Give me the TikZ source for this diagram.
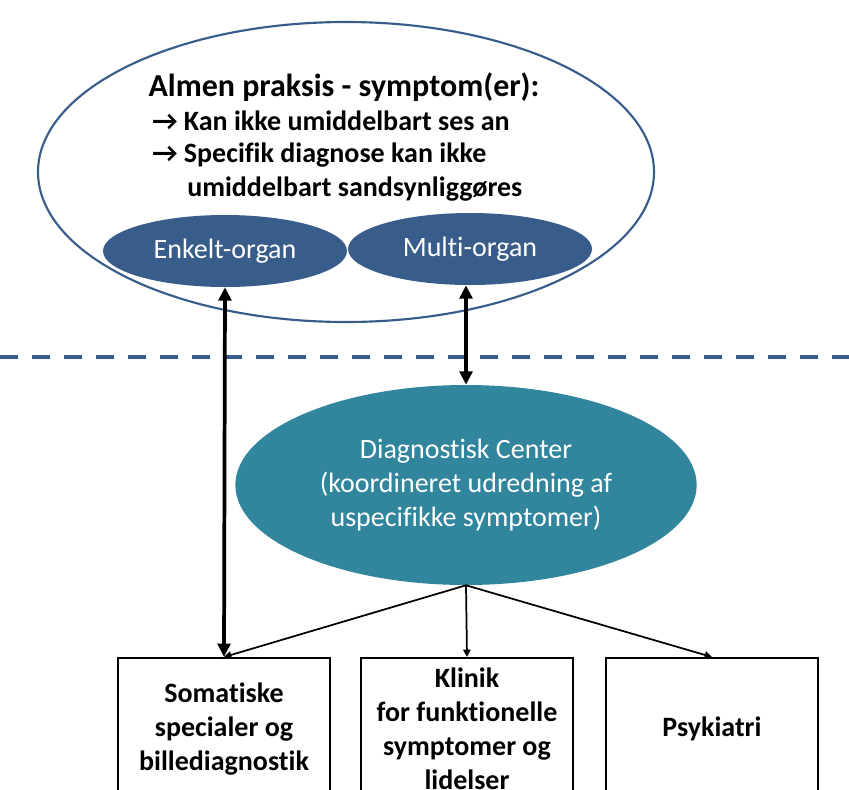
\documentclass[tikz,border=0pt]{standalone}
\usepackage{fontspec}
\setmainfont{Carlito}[Ligatures=NoCommon]
\usetikzlibrary{arrows.meta,positioning,shapes.geometric}
\definecolor{organblue}{RGB}{56,93,138}
\definecolor{centerteal}{RGB}{49,133,156}

\begin{document}
\begin{tikzpicture}[x=0.75pt, y=-0.75pt,
    gp/.style={ellipse, draw=organblue, line width=1.6pt, fill=white,
               minimum width=462pt, minimum height=225pt, inner sep=0pt},
    organ/.style={ellipse, fill=organblue, text=white, inner sep=0pt,
                  minimum width=183pt, minimum height=54pt,
                  font=\fontsize{21}{24}\selectfont},
    head/.style={inner sep=0pt, font=\bfseries\fontsize{24}{28}\selectfont},
    point/.style={inner sep=0pt, anchor=west, font=\bfseries\fontsize{21}{24}\selectfont},
    center/.style={ellipse, fill=centerteal, text=white, inner sep=0pt,
                   minimum width=346pt, minimum height=150pt, align=center,
                   font=\fontsize{21}{25.5}\selectfont},
    unit/.style={rectangle, draw=black, line width=1.5pt, anchor=north,
                 minimum width=159pt, minimum height=106.5pt, align=center,
                 font=\bfseries\fontsize{21}{25.5}\selectfont},
    biarr/.style={{Triangle[length=10pt,width=9.5pt]}-{Triangle[length=10pt,width=9.5pt]},
                  line width=2.8pt, black},
    arr/.style={-{Triangle[length=5.5pt,width=5.5pt]}, line width=1.3pt, black},
    divider/.style={organblue, line width=3pt, dash pattern=on 13.5pt off 10.5pt}
]
\clip (0,0) rectangle (849,789);

% General practice
\node[gp] (praksis) at (346,172) {};
\node[head] (title) at (344,87) {Almen praksis - symptom(er):};
\node[point] (kan) at (152,121) {→ Kan ikke umiddelbart ses an};
\node[point] (spec) at (152,155) {→ Specifik diagnose kan ikke};
\node[point] (sand) at (187,189) {umiddelbart sandsynliggøres};

% Organ groups
\node[organ] (enkelt) at (225,251) {Enkelt-organ};
\node[organ] (multi) at (470,249) {Multi-organ};

% Sector border
\draw[divider] (0,357) -- (849,357);

% Diagnostic centre
\node[center] (dc) at (466,485) {Diagnostisk Center\\(koordineret udredning af\\uspecifikke symptomer)};

% Hospital units
\node[unit] (soma) at (224,657) {Somatiske\\specialer og\\billediagnostik};
\node[unit] (klinik) at (467,657) {Klinik\\for funktionelle\\symptomer og\\lidelser};
\node[unit] (psyk) at (712,657) {Psykiatri};

% Arrows
\draw[biarr] (enkelt.south) -- (soma.north);
\draw[biarr] (multi.south -| dc.north) -- (dc.north);
\draw[arr] (dc.south) -- (soma.north);
\draw[arr] (dc.south) -- (klinik.north);
\draw[arr] (dc.south) -- (psyk.north);
\end{tikzpicture}
\end{document}
